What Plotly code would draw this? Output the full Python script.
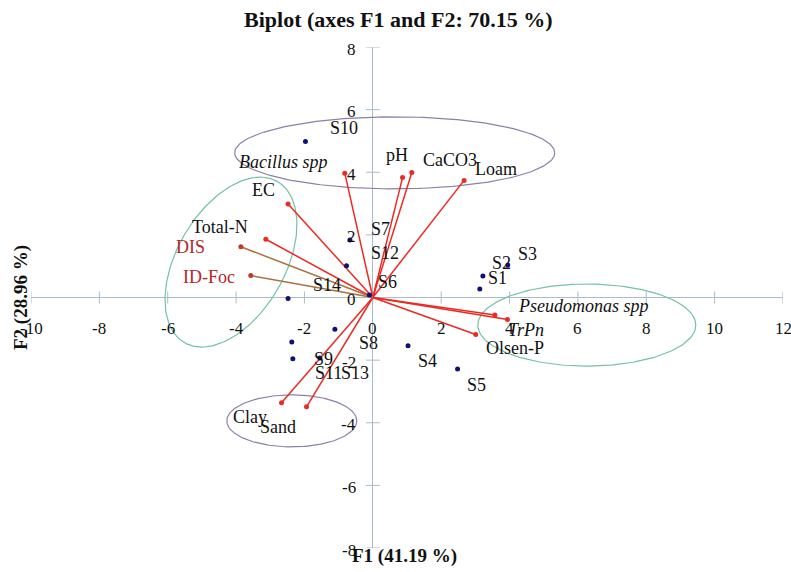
import numpy as np
import plotly.graph_objects as go

# ---- Observations (sites) on F1 / F2 ----
obs_names = ["S1", "S2", "S3", "S4", "S5", "S6", "S7", "S8", "S9", "S10", "S11", "S12", "S13", "S14"]
obs_f1 = [3.13, 3.22, 3.95, 1.03, 2.48, -0.10, -0.67, -1.11, -2.37, -1.97, -2.34, -0.77, -1.55, -2.48]
obs_f2 = [0.27, 0.69, 1.04, -1.54, -2.28, 0.08, 1.84, -1.01, -1.42, 4.98, -1.96, 1.01, -1.93, -0.03]

# ---- Variables (vectors) on F1 / F2 ----
var_names = ["Bacillus spp", "EC", "Total-N", "DIS", "ID-Foc", "pH", "CaCO3", "Loam",
             "Pseudomonas spp", "TrPn", "Olsen-P", "Clay", "Sand"]
var_f1 = [-0.82, -2.48, -3.13, -3.86, -3.57, 0.87, 1.14, 2.67, 3.57, 3.94, 3.01, -2.67, -1.94]
var_f2 = [3.97, 2.99, 1.86, 1.62, 0.70, 3.83, 3.99, 3.74, -0.56, -0.70, -1.18, -3.36, -3.49]
disease_vars = ["DIS", "ID-Foc"]
italic_vars = ["Bacillus spp", "Pseudomonas spp", "TrPn"]

# ---- Axis ticks ----
x_ticks = [-10, -8, -6, -4, -2, 0, 2, 4, 6, 8, 10, 12]
y_ticks = [-8, -6, -4, -2, 0, 2, 4, 6, 8]

TITLE = "Biplot (axes F1 and F2: 70.15 %)"
X_TITLE = "F1 (41.19 %)"
Y_TITLE = "F2 (28.96 %)"

# ---- Layout geometry ----
W, H = 791, 572
M = dict(l=31, r=8, t=47, b=24)
PW, PH = W - M["l"] - M["r"], H - M["t"] - M["b"]
XR = [x_ticks[0], x_ticks[-1]]
YR = [y_ticks[0], y_ticks[-1]]
PX_X = PW / (XR[1] - XR[0])   # pixels per F1 unit
PX_Y = PH / (YR[1] - YR[0])   # pixels per F2 unit


def paper_x(px):
    return (px - M["l"]) / PW


def paper_y(py):
    return (H - M["b"] - py) / PH


FONT = "Liberation Serif, Times New Roman, serif"
AXIS_COL = "#a9bccb"
RED = "#ec2a24"
BROWN = "#a9713f"
DARK_RED = "#b3262a"
NAVY = "#10107a"

# label offsets in pixels (dx right, dy down) from each mark
obs_label_offset = {
    "S1": (18, -11), "S2": (19, -13), "S3": (20, -11), "S4": (19, 15), "S5": (19, 16),
    "S6": (18, -13), "S7": (31, -11), "S8": (34, 14), "S9": (32, 17), "S10": (39, -14),
    "S11": (36, 14), "S12": (38, -13), "S13": (35, 15), "S14": (39, -13),
}
var_label_offset = {
    "Bacillus spp": (-61, -11), "EC": (-25, -14), "Total-N": (-46, -12), "DIS": (-50, 0),
    "ID-Foc": (-42, 1), "pH": (-6, -23), "CaCO3": (38, -13), "Loam": (32, -11),
    "Pseudomonas spp": (89, -9), "TrPn": (19, 11), "Olsen-P": (39, 14),
    "Clay": (-32, 14), "Sand": (-29, 20),
}

# grouping ellipses: centre (F1, F2), semi-axes in px, rotation in degrees
ellipses = [
    dict(c=(0.64, 4.62), a=160, b=36, ang=0, color="#8d80a8"),
    dict(c=(-4.15, 1.13), a=93, b=54, ang=60, color="#74c2a4"),
    dict(c=(6.26, -0.88), a=109, b=41, ang=0, color="#74c2a4"),
    dict(c=(-2.37, -3.94), a=65, b=26, ang=0, color="#8d80a8"),
]

fig = go.Figure()

# ellipses
t = np.linspace(0, 2 * np.pi, 200)
for e in ellipses:
    th = np.deg2rad(e["ang"])
    px = e["a"] * np.cos(t) * np.cos(th) - e["b"] * np.sin(t) * np.sin(th)
    py = e["a"] * np.cos(t) * np.sin(th) + e["b"] * np.sin(t) * np.cos(th)
    fig.add_trace(go.Scatter(x=e["c"][0] + px / PX_X, y=e["c"][1] + py / PX_Y,
                             mode="lines", line=dict(color=e["color"], width=1.2),
                             hoverinfo="skip"))

# tick marks crossing the axes
tx, ty = [], []
for v in x_ticks:
    tx += [v, v, None]
    ty += [-6 / PX_Y, 6 / PX_Y, None]
for v in y_ticks:
    tx += [-7 / PX_X, 7 / PX_X, None]
    ty += [v, v, None]
fig.add_trace(go.Scatter(x=tx, y=ty, mode="lines", line=dict(color=AXIS_COL, width=1),
                         hoverinfo="skip"))

# variable vectors
for group, col in [([n for n in var_names if n not in disease_vars], RED), (disease_vars, BROWN)]:
    lx, ly, ex, ey = [], [], [], []
    for n in group:
        i = var_names.index(n)
        lx += [0, var_f1[i], None]
        ly += [0, var_f2[i], None]
        ex.append(var_f1[i])
        ey.append(var_f2[i])
    fig.add_trace(go.Scatter(x=lx, y=ly, mode="lines", line=dict(color=col, width=1.5),
                             hoverinfo="skip"))
    fig.add_trace(go.Scatter(x=ex, y=ey, mode="markers",
                             marker=dict(color=RED if col == RED else "#c0392b", size=5)))

# observations
fig.add_trace(go.Scatter(x=obs_f1, y=obs_f2, mode="markers",
                         marker=dict(color=NAVY, size=5), text=obs_names))

ann = []
for n, x, y in zip(obs_names, obs_f1, obs_f2):
    dx, dy = obs_label_offset[n]
    ann.append(dict(x=x, y=y, xref="x", yref="y", text=n, showarrow=False,
                    xshift=dx, yshift=-dy, font=dict(family=FONT, size=18, color="#111111")))
for n, x, y in zip(var_names, var_f1, var_f2):
    dx, dy = var_label_offset[n]
    txt = f"<i>{n}</i>" if n in italic_vars else n
    col = DARK_RED if n in disease_vars else "#111111"
    ann.append(dict(x=x, y=y, xref="x", yref="y", text=txt, showarrow=False,
                    xshift=dx, yshift=-dy, font=dict(family=FONT, size=18, color=col)))

# tick labels
for v in x_ticks:
    ann.append(dict(x=v, y=0, xref="x", yref="y", text=str(v), showarrow=False,
                    yshift=-31, font=dict(family=FONT, size=17, color="#111111")))
for v in y_ticks:
    ann.append(dict(x=0, y=v, xref="x", yref="y", text=str(v), showarrow=False,
                    xanchor="right", xshift=-15, yshift=-2,
                    font=dict(family=FONT, size=17, color="#111111")))

# titles
ann.append(dict(x=paper_x(398), y=paper_y(20), xref="paper", yref="paper",
                xanchor="center", yanchor="middle", text=f"<b>{TITLE}</b>",
                showarrow=False, font=dict(family=FONT, size=22, color="#111111")))
ann.append(dict(x=paper_x(404), y=paper_y(556), xref="paper", yref="paper",
                xanchor="center", yanchor="middle", text=f"<b>{X_TITLE}</b>", showarrow=False,
                font=dict(family=FONT, size=19, color="#111111")))
ann.append(dict(x=paper_x(21), y=paper_y(298), xref="paper", yref="paper",
                xanchor="center", yanchor="middle", text=f"<b>{Y_TITLE}</b>", showarrow=False,
                textangle=-90, font=dict(family=FONT, size=19, color="#111111")))

axis_common = dict(showgrid=False, showticklabels=False, ticks="", showline=False,
                   zeroline=True, zerolinecolor=AXIS_COL, zerolinewidth=1, fixedrange=True)
fig.update_layout(
    width=W, height=H, margin=M, showlegend=False,
    plot_bgcolor="white", paper_bgcolor="white",
    xaxis=dict(range=XR, **axis_common),
    yaxis=dict(range=YR, **axis_common),
    annotations=ann,
)

fig.write_html("out.html")
